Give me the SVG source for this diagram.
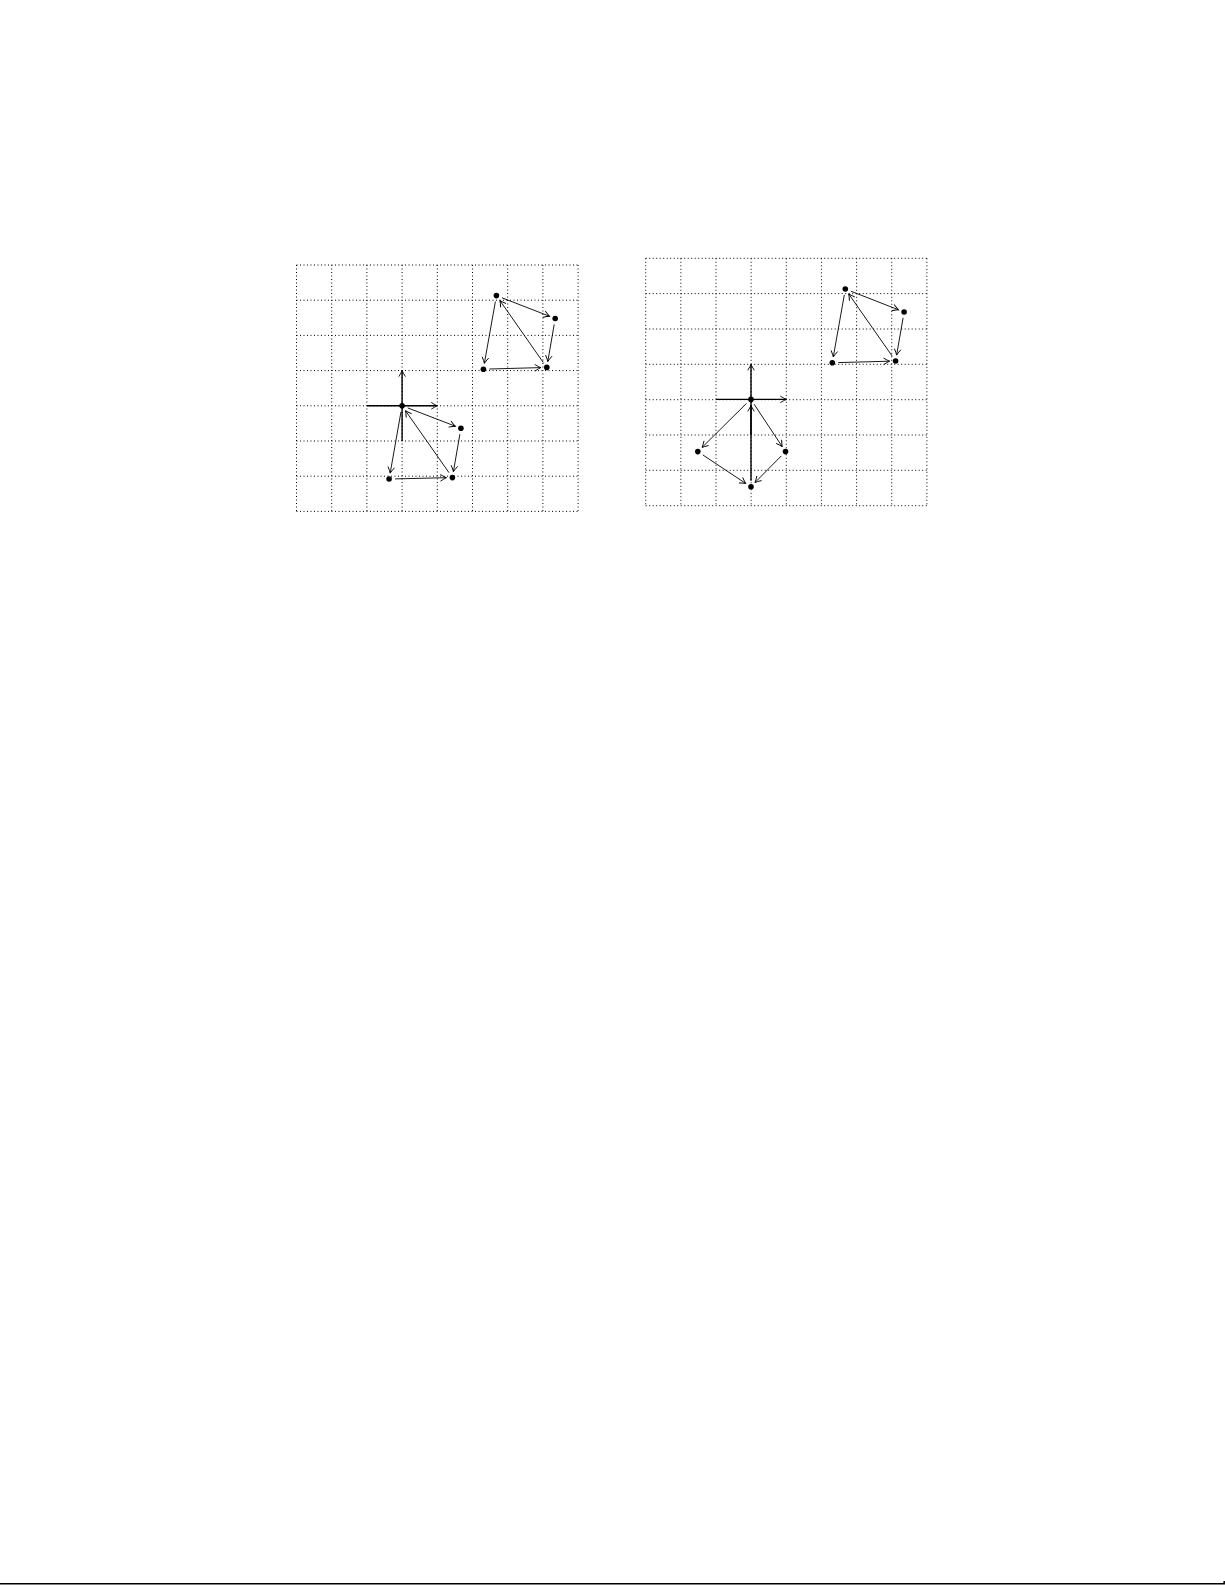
<svg xmlns="http://www.w3.org/2000/svg" width="1225" height="1585" viewBox="0 0 1225 1585">
<style>
.grid{stroke:#000;stroke-width:1;stroke-dasharray:1 2.5;fill:none}
.ax{stroke:#000;stroke-width:1.4;fill:none}
.ar{stroke:#000;stroke-width:0.9;fill:none}
.dot{fill:#000}
</style>
<defs>
<marker id="ah" markerUnits="userSpaceOnUse" viewBox="-8 -5 10 10" markerWidth="10" markerHeight="10" refX="0" refY="0" orient="auto" overflow="visible">
<path d="M-6,-3.3 Q-2,-0.8 0,0 Q-2,0.8 -6,3.3" stroke="#000" stroke-width="0.9" fill="none"/>
</marker>
</defs>
<rect width="1225" height="1585" fill="#fff"/>
<g id="grid-left">
<path class="grid" d="M296.5,265V511.4M331.7,265V511.4M366.9,265V511.4M402.1,265V511.4M437.3,265V511.4M472.5,265V511.4M507.7,265V511.4M542.9,265V511.4M578.1,265V511.4"/>
<path class="grid" d="M296.5,265H578.1M296.5,300.2H578.1M296.5,335.4H578.1M296.5,370.6H578.1M296.5,405.8H578.1M296.5,441H578.1M296.5,476.2H578.1M296.5,511.4H578.1"/>
</g>
<g id="grid-right">
<path class="grid" d="M645.7,258.3V505.7M680.85,258.3V505.7M716,258.3V505.7M751.15,258.3V505.7M786.3,258.3V505.7M821.45,258.3V505.7M856.6,258.3V505.7M891.75,258.3V505.7M926.9,258.3V505.7"/>
<path class="grid" d="M645.7,258.3H926.9M645.7,293.6H926.9M645.7,329H926.9M645.7,364.3H926.9M645.7,399.7H926.9M645.7,435H926.9M645.7,470.3H926.9M645.7,505.7H926.9"/>
</g>
<g id="axes-left">
<line class="ax" x1="366.9" y1="405.8" x2="437.3" y2="405.8" marker-end="url(#ah)"/>
<line class="ax" x1="402.1" y1="441" x2="402.1" y2="370.6" marker-end="url(#ah)"/>
</g>
<g id="axes-right">
<line class="ax" x1="716" y1="399.4" x2="786.3" y2="399.4" marker-end="url(#ah)"/>
<line class="ax" x1="751" y1="434.8" x2="751" y2="364.3" marker-end="url(#ah)"/>
</g>
<g id="connectors">
<line class="ar" x1="407.7" y1="407.9" x2="455.3" y2="426.2" marker-end="url(#ah)"/>
<line class="ar" x1="459.9" y1="434.2" x2="453.4" y2="471.7" marker-end="url(#ah)"/>
<line class="ar" x1="395.1" y1="478.9" x2="446.4" y2="477.7" marker-end="url(#ah)"/>
<line class="ar" x1="449" y1="472.7" x2="405.5" y2="410.7" marker-end="url(#ah)"/>
<line class="ar" x1="401" y1="411.7" x2="390.2" y2="473.1" marker-end="url(#ah)"/>
<line class="ar" x1="502" y1="297.8" x2="549.6" y2="316.3" marker-end="url(#ah)"/>
<line class="ar" x1="554.2" y1="324.4" x2="547.8" y2="361.5" marker-end="url(#ah)"/>
<line class="ar" x1="489.4" y1="369" x2="540.8" y2="367.6" marker-end="url(#ah)"/>
<line class="ar" x1="543.3" y1="362.5" x2="499.9" y2="300.5" marker-end="url(#ah)"/>
<line class="ar" x1="495.4" y1="301.5" x2="484.4" y2="363.3" marker-end="url(#ah)"/>
<line class="ar" x1="746.5" y1="403.4" x2="702.1" y2="447.4" marker-end="url(#ah)"/>
<line class="ar" x1="702.8" y1="454.9" x2="745.8" y2="483.5" marker-end="url(#ah)"/>
<line class="ar" x1="781.3" y1="455.9" x2="755" y2="482.5" marker-end="url(#ah)"/>
<line class="ax" x1="751" y1="480.8" x2="751" y2="405.4" marker-end="url(#ah)"/>
<line class="ar" x1="754.1" y1="404.2" x2="782.2" y2="446.6" marker-end="url(#ah)"/>
<line class="ar" x1="850.9" y1="291.2" x2="898.5" y2="309.8" marker-end="url(#ah)"/>
<line class="ar" x1="903.1" y1="317.9" x2="896.6" y2="355.1" marker-end="url(#ah)"/>
<line class="ar" x1="838.3" y1="362.6" x2="889.6" y2="361.2" marker-end="url(#ah)"/>
<line class="ar" x1="892.2" y1="356.1" x2="848.7" y2="293.9" marker-end="url(#ah)"/>
<line class="ar" x1="844.3" y1="294.9" x2="833.3" y2="356.9" marker-end="url(#ah)"/>
</g>
<g id="points-left">
<circle class="dot" cx="402.1" cy="405.8" r="2.8"/>
<circle class="dot" cx="460.9" cy="428.3" r="2.8"/>
<circle class="dot" cx="452.4" cy="477.6" r="2.8"/>
<circle class="dot" cx="389.1" cy="479" r="2.8"/>
<circle class="dot" cx="496.4" cy="295.6" r="2.8"/>
<circle class="dot" cx="555.2" cy="318.5" r="2.8"/>
<circle class="dot" cx="546.8" cy="367.4" r="2.8"/>
<circle class="dot" cx="483.4" cy="369.2" r="2.8"/>
</g>
<g id="points-right">
<circle class="dot" cx="751" cy="399.4" r="2.8"/>
<circle class="dot" cx="697.8" cy="451.6" r="2.8"/>
<circle class="dot" cx="785.5" cy="451.6" r="2.8"/>
<circle class="dot" cx="751" cy="486.8" r="2.8"/>
<circle class="dot" cx="845.3" cy="289" r="2.8"/>
<circle class="dot" cx="904.1" cy="312" r="2.8"/>
<circle class="dot" cx="895.6" cy="361" r="2.8"/>
<circle class="dot" cx="832.3" cy="362.8" r="2.8"/>
</g>
<g id="page-edge">
<path d="M0,1583.8H1224.2V1581" stroke="#000" stroke-width="1.5" fill="none"/>
</g>
</svg>
